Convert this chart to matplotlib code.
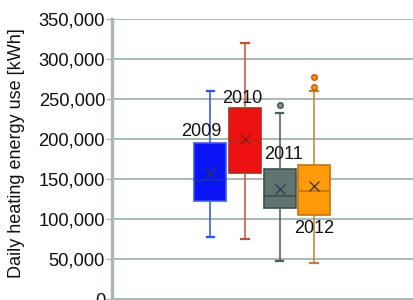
import matplotlib
matplotlib.use('Agg')
import matplotlib.pyplot as plt
from matplotlib.ticker import FuncFormatter

plt.rcParams['font.family'] = ['Liberation Sans', 'DejaVu Sans']

# Box plot summaries (kWh per day)
years = ['2009', '2010', '2011', '2012']
q1 = [123000, 158000, 114000, 105000]
medians = [149000, 197500, 129500, 135500]
q3 = [195000, 239000, 162500, 168000]
means = [158500, 201000, 138000, 141500]
whislo = [78000, 75500, 48000, 45500]
whishi = [261000, 320500, 232500, 261000]
fliers = [[], [], [243000], [265500, 277500]]

face_colors = ['#0a14f5', '#ee1111', '#5f7471', '#ff9a0a']
edge_colors = ['#3a5ae8', '#b42a1c', '#3c5250', '#c27410']
whisker_colors = ['#2a55e0', '#c0503c', '#4a5e5c', '#c08030']
flier_colors = ['#e06000', '#e06000', '#6d8582', '#ff9a0a']

# where each year label sits (x offset from box, y value)
label_pos = [(-0.26, 209500), (-0.07, 251500), (0.1, 181500), (0.0, 89000)]

fig = plt.figure(figsize=(4.13, 3.0), dpi=100)
ax = fig.add_axes([112 / 413, 0.0, 320 / 413, 280.7 / 300])

stats = []
for i in range(len(years)):
    stats.append(dict(q1=q1[i], med=medians[i], q3=q3[i], mean=means[i],
                      whislo=whislo[i], whishi=whishi[i], fliers=fliers[i],
                      label=years[i]))

positions = [1, 2, 3, 4]
bp = ax.bxp(stats, positions=positions, widths=0.93, patch_artist=True,
            showmeans=True, manage_ticks=False)

for i in range(len(years)):
    bp['boxes'][i].set(facecolor=face_colors[i], edgecolor=edge_colors[i], linewidth=1.2)
    bp['medians'][i].set(color=edge_colors[i] if i != 0 else '#1030c0', linewidth=1.2)
    bp['means'][i].set(marker='x', markeredgecolor='#303848' if i != 1 else '#8a1a10',
                       markersize=7, markeredgewidth=0.9)
    for w in bp['whiskers'][2 * i:2 * i + 2]:
        w.set(color=whisker_colors[i], linewidth=1.1)
    for c in bp['caps'][2 * i:2 * i + 2]:
        c.set(color=whisker_colors[i], linewidth=1.6, xdata=[positions[i] - 0.11, positions[i] + 0.11])
    bp['fliers'][i].set(marker='o', markersize=4, markerfacecolor=flier_colors[i] if i != 2 else '#7f9592',
                        markeredgecolor='#d05010' if i == 3 else '#3c5250', markeredgewidth=1.0)

# year labels next to each box
for i, (dx, y) in enumerate(label_pos):
    ax.text(positions[i] + dx, y, years[i], fontsize=13, ha='center', va='center', color='#111111')

ax.set_ylim(-875, 350000)
ax.set_xlim(-1.84, 7.4)
ax.set_yticks(range(0, 350001, 50000))
ax.yaxis.set_major_formatter(FuncFormatter(lambda v, p: f'{int(v):,}'))
ax.set_xticks([])
ax.grid(axis='y', color='#a3b4b1', linewidth=1.3)
ax.set_axisbelow(True)

for side in ['right', 'bottom', 'top']:
    ax.spines[side].set_visible(False)
ax.spines['left'].set(color='#a8b8b5', linewidth=2.5)
ax.tick_params(axis='y', length=4, width=1, color='#a8b8b5', labelsize=13.2, labelcolor='#111111', pad=1)

ax.set_ylabel('Daily heating energy use [kWh]', fontsize=13, color='#111111')
ax.yaxis.set_label_coords(-0.272, 0.524)

fig.savefig('out.png', dpi=100)
